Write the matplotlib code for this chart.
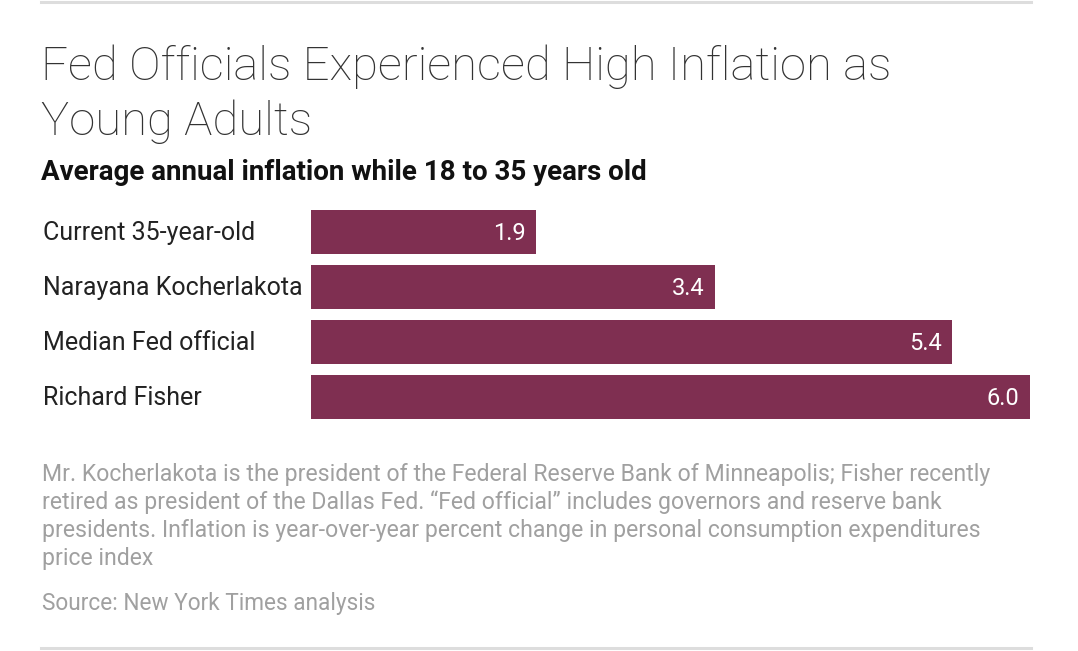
import matplotlib.pyplot as plt

names = ["Current 35-year-old", "Narayana Kocherlakota", "Median Fed official", "Richard Fisher"]
values = [1.88, 3.37, 5.35, 6.0]
value_labels = ["1.9", "3.4", "5.4", "6.0"]

title_lines = ["Fed Officials Experienced High Inflation as", "Young Adults"]
subtitle = "Average annual inflation while 18 to 35 years old"
note_lines = [
    "Mr. Kocherlakota is the president of the Federal Reserve Bank of Minneapolis; Fisher recently",
    "retired as president of the Dallas Fed. \u201cFed official\u201d includes governors and reserve bank",
    "presidents. Inflation is year-over-year percent change in personal consumption expenditures",
    "price index",
]
source = "Source: New York Times analysis"

W, H = 1078, 651
plt.rcParams['font.family'] = ['Roboto', 'DejaVu Sans']
fig = plt.figure(figsize=(W / 100, H / 100), dpi=100)

def fy(y):
    return 1 - y / H

# top and bottom rules
for yy in (1.5, 648):
    fig.add_artist(plt.Line2D([41 / W, 1031 / W], [fy(yy), fy(yy)], color="#dddddd", lw=2.2))

for i, line in enumerate(title_lines):
    fig.text(41 / W, fy(80 + 55 * i), line, fontsize=34, fontweight="light",
             color="#333333", va="baseline", ha="left")

fig.text(41 / W, fy(180), subtitle, fontsize=20, fontweight="bold", color="#111111",
         va="baseline", ha="left")

ax = fig.add_axes([311 / W, 1 - 419 / H, 719 / W, 209 / H])
ypos = list(range(len(values)))
bars = ax.barh(ypos, values, height=0.8, color="#7f2f51")
ax.set_xlim(0, 6.0)
ax.set_ylim(3.4, -0.4)
ax.axis("off")

for b, lab in zip(bars, value_labels):
    ax.annotate(lab, (b.get_width(), b.get_y() + b.get_height() / 2),
                xytext=(-7.5, -1), textcoords="offset points",
                color="white", fontsize=17, ha="right", va="center")

# category labels sit at the left page margin, aligned with each bar
for b, n in zip(bars, names):
    ax.annotate(n, (0, b.get_y() + b.get_height() / 2), xycoords="data",
                xytext=(-(311 - 43) * 0.72, -1), textcoords="offset points",
                color="#222222", fontsize=18, ha="left", va="center")

for i, line in enumerate(note_lines):
    fig.text(42 / W, fy(481 + 28 * i), line, fontsize=16.6, color="#a0a0a0",
             va="baseline", ha="left")
fig.text(42 / W, fy(610), source, fontsize=16.3, color="#a0a0a0", va="baseline", ha="left")

fig.savefig("out.png", dpi=100, facecolor="white")
